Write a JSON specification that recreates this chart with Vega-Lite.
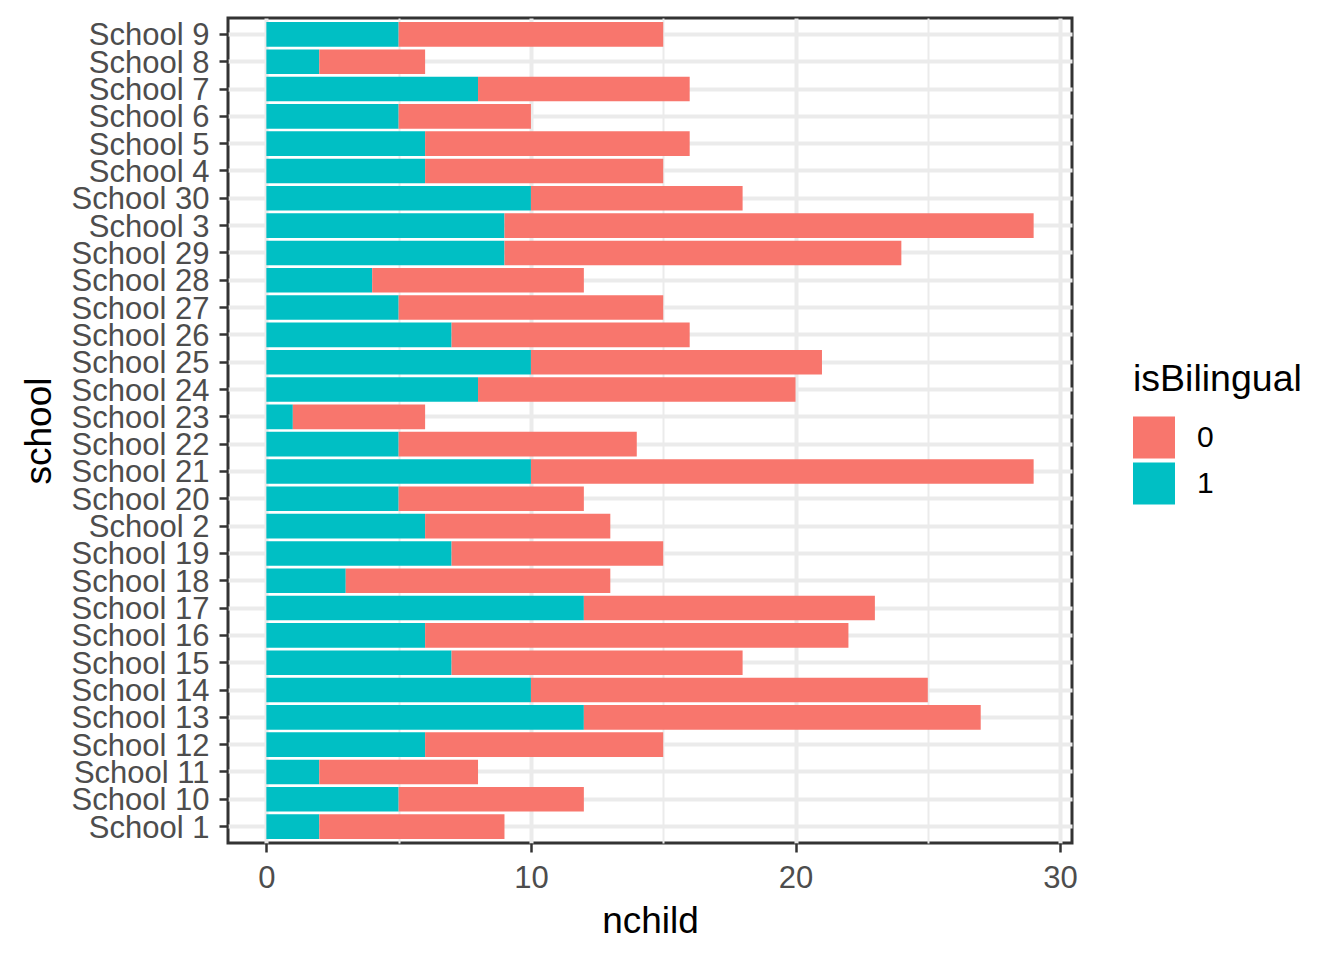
{
  "$schema": "https://vega.github.io/schema/vega-lite/v6.json",
  "autosize": "none",
  "padding": {"left": 228, "top": 18, "right": 272, "bottom": 117},
  "width": 844,
  "height": 825,
  "background": "white",
  "config": {
    "font": "Liberation Sans",
    "view": {"stroke": "#333333", "strokeWidth": 3},
    "axis": {
      "domain": false,
      "gridColor": "#EBEBEB",
      "tickColor": "#333333",
      "tickWidth": 2.5,
      "tickSize": 9,
      "labelFont": "Liberation Sans",
      "labelFontSize": 31,
      "labelColor": "#4D4D4D",
      "titleFont": "Liberation Sans",
      "titleFontSize": 37,
      "titleFontWeight": "normal",
      "titleColor": "#000000"
    },
    "legend": {
      "titleFont": "Liberation Sans",
      "titleFontSize": 37.5,
      "titleFontWeight": "normal",
      "titleColor": "#000000",
      "labelFont": "Liberation Sans",
      "labelFontSize": 30,
      "labelColor": "#000000"
    }
  },
  "data": {
    "values": [
      {"school": "School 1", "isBilingual": "1", "nchild": 2},
      {"school": "School 1", "isBilingual": "0", "nchild": 7},
      {"school": "School 2", "isBilingual": "1", "nchild": 6},
      {"school": "School 2", "isBilingual": "0", "nchild": 7},
      {"school": "School 3", "isBilingual": "1", "nchild": 9},
      {"school": "School 3", "isBilingual": "0", "nchild": 20},
      {"school": "School 4", "isBilingual": "1", "nchild": 6},
      {"school": "School 4", "isBilingual": "0", "nchild": 9},
      {"school": "School 5", "isBilingual": "1", "nchild": 6},
      {"school": "School 5", "isBilingual": "0", "nchild": 10},
      {"school": "School 6", "isBilingual": "1", "nchild": 5},
      {"school": "School 6", "isBilingual": "0", "nchild": 5},
      {"school": "School 7", "isBilingual": "1", "nchild": 8},
      {"school": "School 7", "isBilingual": "0", "nchild": 8},
      {"school": "School 8", "isBilingual": "1", "nchild": 2},
      {"school": "School 8", "isBilingual": "0", "nchild": 4},
      {"school": "School 9", "isBilingual": "1", "nchild": 5},
      {"school": "School 9", "isBilingual": "0", "nchild": 10},
      {"school": "School 10", "isBilingual": "1", "nchild": 5},
      {"school": "School 10", "isBilingual": "0", "nchild": 7},
      {"school": "School 11", "isBilingual": "1", "nchild": 2},
      {"school": "School 11", "isBilingual": "0", "nchild": 6},
      {"school": "School 12", "isBilingual": "1", "nchild": 6},
      {"school": "School 12", "isBilingual": "0", "nchild": 9},
      {"school": "School 13", "isBilingual": "1", "nchild": 12},
      {"school": "School 13", "isBilingual": "0", "nchild": 15},
      {"school": "School 14", "isBilingual": "1", "nchild": 10},
      {"school": "School 14", "isBilingual": "0", "nchild": 15},
      {"school": "School 15", "isBilingual": "1", "nchild": 7},
      {"school": "School 15", "isBilingual": "0", "nchild": 11},
      {"school": "School 16", "isBilingual": "1", "nchild": 6},
      {"school": "School 16", "isBilingual": "0", "nchild": 16},
      {"school": "School 17", "isBilingual": "1", "nchild": 12},
      {"school": "School 17", "isBilingual": "0", "nchild": 11},
      {"school": "School 18", "isBilingual": "1", "nchild": 3},
      {"school": "School 18", "isBilingual": "0", "nchild": 10},
      {"school": "School 19", "isBilingual": "1", "nchild": 7},
      {"school": "School 19", "isBilingual": "0", "nchild": 8},
      {"school": "School 20", "isBilingual": "1", "nchild": 5},
      {"school": "School 20", "isBilingual": "0", "nchild": 7},
      {"school": "School 21", "isBilingual": "1", "nchild": 10},
      {"school": "School 21", "isBilingual": "0", "nchild": 19},
      {"school": "School 22", "isBilingual": "1", "nchild": 5},
      {"school": "School 22", "isBilingual": "0", "nchild": 9},
      {"school": "School 23", "isBilingual": "1", "nchild": 1},
      {"school": "School 23", "isBilingual": "0", "nchild": 5},
      {"school": "School 24", "isBilingual": "1", "nchild": 8},
      {"school": "School 24", "isBilingual": "0", "nchild": 12},
      {"school": "School 25", "isBilingual": "1", "nchild": 10},
      {"school": "School 25", "isBilingual": "0", "nchild": 11},
      {"school": "School 26", "isBilingual": "1", "nchild": 7},
      {"school": "School 26", "isBilingual": "0", "nchild": 9},
      {"school": "School 27", "isBilingual": "1", "nchild": 5},
      {"school": "School 27", "isBilingual": "0", "nchild": 10},
      {"school": "School 28", "isBilingual": "1", "nchild": 4},
      {"school": "School 28", "isBilingual": "0", "nchild": 8},
      {"school": "School 29", "isBilingual": "1", "nchild": 9},
      {"school": "School 29", "isBilingual": "0", "nchild": 15},
      {"school": "School 30", "isBilingual": "1", "nchild": 10},
      {"school": "School 30", "isBilingual": "0", "nchild": 8}
    ]
  },
  "mark": {"type": "bar"},
  "encoding": {
    "y": {
      "field": "school",
      "type": "nominal",
      "sort": "descending",
      "title": "school",
      "scale": {"paddingInner": 0.1, "paddingOuter": 0.15},
      "axis": {
        "grid": true,
        "gridWidth": 4,
        "labelPadding": 10,
        "labelOffset": 2,
        "titlePadding": 13
      }
    },
    "x": {
      "field": "nchild",
      "type": "quantitative",
      "stack": "zero",
      "title": "nchild",
      "scale": {"domain": [-1.45, 30.45], "nice": false, "zero": false},
      "axis": {
        "values": [0, 5, 10, 15, 20, 25, 30],
        "grid": true,
        "gridWidth": {"condition": {"test": "datum.value % 10 === 0", "value": 4}, "value": 2},
        "tickOpacity": {"condition": {"test": "datum.value % 10 === 0", "value": 1}, "value": 0},
        "labelExpr": "datum.value % 10 === 0 ? datum.label : ''",
        "labelPadding": 11,
        "titlePadding": 10
      }
    },
    "color": {
      "field": "isBilingual",
      "type": "nominal",
      "title": "isBilingual",
      "scale": {"domain": ["0", "1"], "range": ["#F8766D", "#00BFC4"]},
      "legend": {
        "orient": "none",
        "legendX": 905,
        "legendY": 343,
        "symbolType": "square",
        "symbolSize": 1764,
        "symbolStrokeWidth": 0,
        "symbolOpacity": 1,
        "rowPadding": 4,
        "labelOffset": 22,
        "titlePadding": 18
      }
    },
    "order": {"field": "isBilingual", "sort": "descending"}
  }
}
